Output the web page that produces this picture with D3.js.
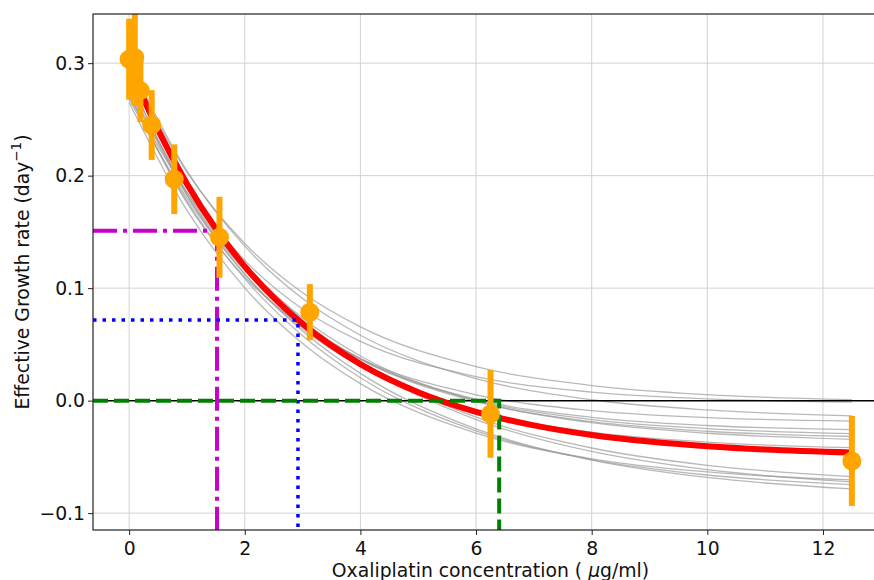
<!DOCTYPE html>
<html>
<head>
<meta charset="utf-8">
<script src="https://cdnjs.cloudflare.com/ajax/libs/d3/7.8.5/d3.min.js"></script>
<style>
body { margin: 0; background: #fff; }
text { font-family: "DejaVu Sans", sans-serif; }
</style>
</head>
<body>
<script>
// measured points (concentration in ug/ml, growth rate per day)
const conc = [0, 0.098, 0.195, 0.39, 0.78, 1.5625, 3.125, 6.25, 12.5];
const rate = [0.3035, 0.305, 0.2756, 0.245, 0.1968, 0.1452, 0.0786, -0.0118, -0.0536];
const rateErr = [0.036, 0.043, 0.028, 0.031, 0.031, 0.036, 0.025, 0.039, 0.040];

// best fit (red)
const fitX = [0, 0.5, 1, 1.5, 2, 2.5, 3, 4, 5, 6, 7, 8, 9, 10, 11, 12.5];
const fitY = [0.298, 0.2407, 0.1928, 0.1528, 0.1194, 0.0915, 0.0682, 0.0325, 0.0075,
              -0.0099, -0.022, -0.0305, -0.0364, -0.0405, -0.0434, -0.0461];

// bootstrap fits (grey)
const bootX = [0, 1, 2, 3, 4, 6, 8, 10, 12.5];
const boot1  = [0.295, 0.2031, 0.1397, 0.0959, 0.0656, 0.0303, 0.0134, 0.0053, 0.0009];
const boot2  = [0.290, 0.1905, 0.1247, 0.0814, 0.0527, 0.0213, 0.0076, 0.0016, -0.0014];
const boot3  = [0.300, 0.2042, 0.1373, 0.0907, 0.0581, 0.0196, 0.0008, -0.0083, -0.0135];
const boot4  = [0.275, 0.1758, 0.1099, 0.0662, 0.0372, 0.0052, -0.0089, -0.0151, -0.0182];
const boot5  = [0.295, 0.1885, 0.1171, 0.0693, 0.0372, 0.0013, -0.0148, -0.0221, -0.0258];
const boot6  = [0.285, 0.1848, 0.1163, 0.0694, 0.0373, 0.0004, -0.0168, -0.0249, -0.0293];
const boot7  = [0.280, 0.1826, 0.1153, 0.0688, 0.0367, -0.0008, -0.0187, -0.0272, -0.0319];
const boot8  = [0.290, 0.1908, 0.1217, 0.0734, 0.0397, -0.0002, -0.0196, -0.029, -0.0344];
const boot9  = [0.285, 0.1829, 0.1124, 0.0638, 0.0301, -0.0092, -0.0279, -0.0368, -0.0418];
const boot10 = [0.275, 0.1887, 0.1218, 0.0717, 0.0343, -0.0147, -0.0421, -0.0575, -0.0675];
const boot11 = [0.270, 0.1853, 0.1198, 0.0703, 0.0328, -0.0168, -0.0452, -0.0614, -0.0723];
const boot12 = [0.265, 0.1691, 0.1003, 0.0507, 0.0151, -0.0289, -0.0517, -0.0634, -0.0705];
const boot13 = [0.268, 0.1799, 0.1124, 0.062, 0.0242, -0.0252, -0.0528, -0.0683, -0.0785];
const boot14 = [0.272, 0.1776, 0.1084, 0.0577, 0.0204, -0.0269, -0.0524, -0.0661, -0.0747];
const bootCurves = [boot1, boot2, boot3, boot4, boot5, boot6, boot7, boot8, boot9,
                    boot10, boot11, boot12, boot13, boot14];

// guide lines: magenta dash-dot, blue dotted, green dashed
const guideX = [1.52, 2.92, 6.4];
const guideY = [0.151, 0.0717, 0];

const xTicks = [0, 2, 4, 6, 8, 10, 12];
const yTicks = [-0.1, 0.0, 0.1, 0.2, 0.3];

let m = { top: 14, left: 93, bottom: 50, right: -14 },
    W = 874, H = 580,
    w = W - m.left - m.right,
    h = H - m.top - m.bottom;

let svg = d3.select("body").append("svg")
    .attr("width", W)
    .attr("height", H);

let g = svg.append("g")
    .attr("transform", "translate(" + m.left + "," + m.top + ")");

let x = d3.scaleLinear().domain([-0.625, 13.125]).range([0, w]);
let y = d3.scaleLinear().domain([-0.115, 0.3437]).range([h, 0]);

g.append("clipPath").attr("id", "clip")
  .append("rect").attr("width", w).attr("height", h);

// grid
g.append("g").selectAll("line").data(xTicks).join("line")
    .attr("x1", d => x(d)).attr("x2", d => x(d))
    .attr("y1", 0).attr("y2", h)
    .attr("stroke", "#d2d2d2").attr("stroke-width", 1);
g.append("g").selectAll("line").data(yTicks).join("line")
    .attr("y1", d => y(d)).attr("y2", d => y(d))
    .attr("x1", 0).attr("x2", w)
    .attr("stroke", "#d2d2d2").attr("stroke-width", 1);

let plot = g.append("g").attr("clip-path", "url(#clip)");

// grey bootstrap fits
let bootLine = d3.line()
    .x((d, i) => x(bootX[i]))
    .y(d => y(d))
    .curve(d3.curveMonotoneX);
plot.append("g").selectAll("path").data(bootCurves).join("path")
    .attr("d", bootLine)
    .attr("fill", "none")
    .attr("stroke", "#9a9a9a")
    .attr("stroke-opacity", 0.7)
    .attr("stroke-width", 1.3);

// zero line
plot.append("line")
    .attr("x1", 0).attr("x2", w)
    .attr("y1", y(0)).attr("y2", y(0))
    .attr("stroke", "#000").attr("stroke-width", 1.5);

// red fit
let fitLine = d3.line()
    .x((d, i) => x(fitX[i]))
    .y(d => y(d))
    .curve(d3.curveMonotoneX);
plot.append("path")
    .datum(fitY)
    .attr("d", fitLine)
    .attr("fill", "none")
    .attr("stroke", "#ff0000")
    .attr("stroke-width", 6);

// guide lines
let guideStyle = [
  { c: "#c800c8", wd: 4, dash: "24 6 4 6" },
  { c: "#0000ff", wd: 3.5, dash: "3.5 6" },
  { c: "#008000", wd: 4, dash: "15 6" }
];
guideX.forEach(function(gx, i) {
  let s = guideStyle[i];
  let p = d3.path();
  p.moveTo(0, y(guideY[i]));
  p.lineTo(x(gx), y(guideY[i]));
  p.lineTo(x(gx), h);
  plot.append("path")
      .attr("d", p.toString())
      .attr("fill", "none")
      .attr("stroke", s.c)
      .attr("stroke-width", s.wd)
      .attr("stroke-dasharray", s.dash);
});

// error bars and points
plot.append("g").selectAll("line").data(conc).join("line")
    .attr("x1", d => x(d)).attr("x2", d => x(d))
    .attr("y1", (d, i) => y(rate[i] - rateErr[i]))
    .attr("y2", (d, i) => y(rate[i] + rateErr[i]))
    .attr("stroke", "#ffa500").attr("stroke-width", 6);
plot.append("g").selectAll("circle").data(conc).join("circle")
    .attr("cx", d => x(d))
    .attr("cy", (d, i) => y(rate[i]))
    .attr("r", 9.5)
    .attr("fill", "#ffa500");

// frame
g.append("rect")
    .attr("width", w).attr("height", h)
    .attr("fill", "none").attr("stroke", "#222").attr("stroke-width", 1.2);

// axes
let fmtY = d => (d < 0 ? "\u2212" : "") + Math.abs(d).toFixed(1);
let ax = g.append("g")
    .attr("transform", "translate(0," + h + ")")
    .call(d3.axisBottom(x).tickValues(xTicks).tickSize(5).tickPadding(7));
let ay = g.append("g")
    .call(d3.axisLeft(y).tickValues(yTicks).tickFormat(fmtY).tickSize(5).tickPadding(3));
[ax, ay].forEach(function(a) {
  a.select(".domain").remove();
  a.selectAll("text").attr("font-size", 18.8).attr("fill", "#111")
      .attr("font-family", "DejaVu Sans, sans-serif");
  a.selectAll("line").attr("stroke", "#222");
});

// axis labels
let xl = svg.append("text")
    .attr("x", m.left + w / 2)
    .attr("y", 577)
    .attr("text-anchor", "middle")
    .attr("font-size", 18.8)
    .attr("fill", "#111");
xl.append("tspan").text("Oxaliplatin concentration ( ");
xl.append("tspan").attr("font-style", "italic").text("\u03bc");
xl.append("tspan").text("g/ml)");

let yl = svg.append("text")
    .attr("transform", "translate(29," + (m.top + h / 2) + ") rotate(-90)")
    .attr("text-anchor", "middle")
    .attr("font-size", 18.8)
    .attr("fill", "#111");
yl.append("tspan").text("Effective Growth rate (day");
yl.append("tspan").attr("font-size", 13.5).attr("dy", -8).text("\u22121");
yl.append("tspan").attr("dy", 8).text(")");
</script>
</body>
</html>
